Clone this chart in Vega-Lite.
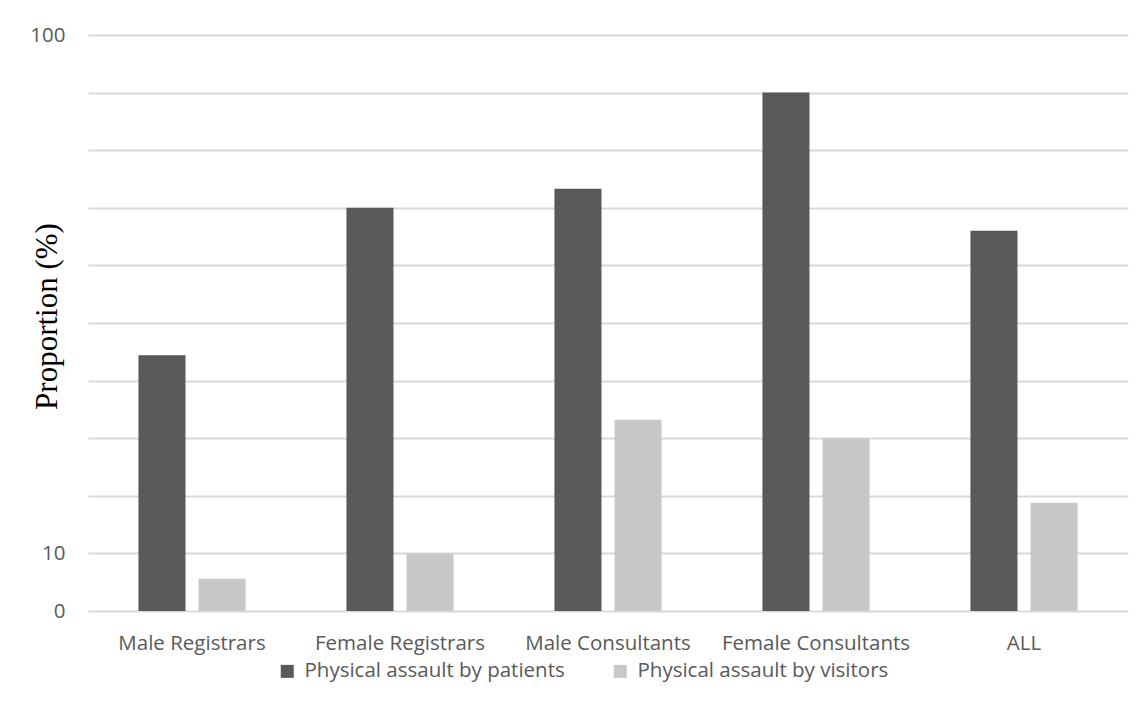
{
  "$schema": "https://vega.github.io/schema/vega-lite/v6.json",
  "autosize": {"type": "none"},
  "width": 1040,
  "height": 576,
  "padding": {"left": 88, "top": 35, "right": 19, "bottom": 96},
  "background": "white",
  "data": {
    "values": [
      {"group": "Male Registrars", "series": "Physical assault by patients", "value": 44.4},
      {"group": "Male Registrars", "series": "Physical assault by visitors", "value": 5.6},
      {"group": "Female Registrars", "series": "Physical assault by patients", "value": 70.0},
      {"group": "Female Registrars", "series": "Physical assault by visitors", "value": 10.0},
      {"group": "Male Consultants", "series": "Physical assault by patients", "value": 73.3},
      {"group": "Male Consultants", "series": "Physical assault by visitors", "value": 33.2},
      {"group": "Female Consultants", "series": "Physical assault by patients", "value": 90.0},
      {"group": "Female Consultants", "series": "Physical assault by visitors", "value": 30.0},
      {"group": "ALL", "series": "Physical assault by patients", "value": 66.0},
      {"group": "ALL", "series": "Physical assault by visitors", "value": 18.8}
    ]
  },
  "mark": {"type": "bar"},
  "encoding": {
    "x": {
      "field": "group",
      "type": "nominal",
      "sort": ["Male Registrars", "Female Registrars", "Male Consultants", "Female Consultants", "ALL"],
      "scale": {"paddingInner": 0.485, "paddingOuter": 0.2425},
      "axis": {
        "title": null,
        "labelAngle": 0,
        "domain": false,
        "ticks": false,
        "labelPadding": 22,
        "labelFont": "Open Sans",
        "labelFontSize": 20.5,
        "labelColor": "#595959",
        "labelLimit": 0
      }
    },
    "xOffset": {
      "field": "series",
      "type": "nominal",
      "scale": {"paddingInner": 0.217, "paddingOuter": 0}
    },
    "y": {
      "field": "value",
      "type": "quantitative",
      "scale": {"domain": [0, 100], "nice": false},
      "axis": {
        "title": "Proportion (%)",
        "titleFont": "Liberation Serif",
        "titleFontSize": 31,
        "titleFontWeight": "normal",
        "titleColor": "#000000",
        "titleX": -41,
        "titleY": 281,
        "titleAngle": -90,
        "titleAlign": "center",
        "titleBaseline": "middle",
        "values": [0, 10, 20, 30, 40, 50, 60, 70, 80, 90, 100],
        "labelExpr": "datum.value == 0 || datum.value == 10 || datum.value == 100 ? datum.label : ''",
        "domain": false,
        "ticks": false,
        "labelPadding": 23,
        "labelFont": "Open Sans",
        "labelFontSize": 20.5,
        "labelColor": "#595959",
        "grid": true,
        "gridColor": "#d9d9d9",
        "gridWidth": 2
      }
    },
    "color": {
      "field": "series",
      "type": "nominal",
      "scale": {
        "domain": ["Physical assault by patients", "Physical assault by visitors"],
        "range": ["#595959", "#c8c8c8"]
      },
      "legend": {
        "title": null,
        "orient": "none",
        "direction": "horizontal",
        "legendX": 189,
        "legendY": 626,
        "symbolType": "square",
        "symbolSize": 169,
        "symbolStrokeWidth": 0,
        "labelFont": "Open Sans",
        "labelFontSize": 20.5,
        "labelColor": "#595959",
        "labelOffset": 7,
        "labelLimit": 0,
        "columnPadding": 45
      }
    }
  },
  "config": {
    "view": {"stroke": null}
  }
}
